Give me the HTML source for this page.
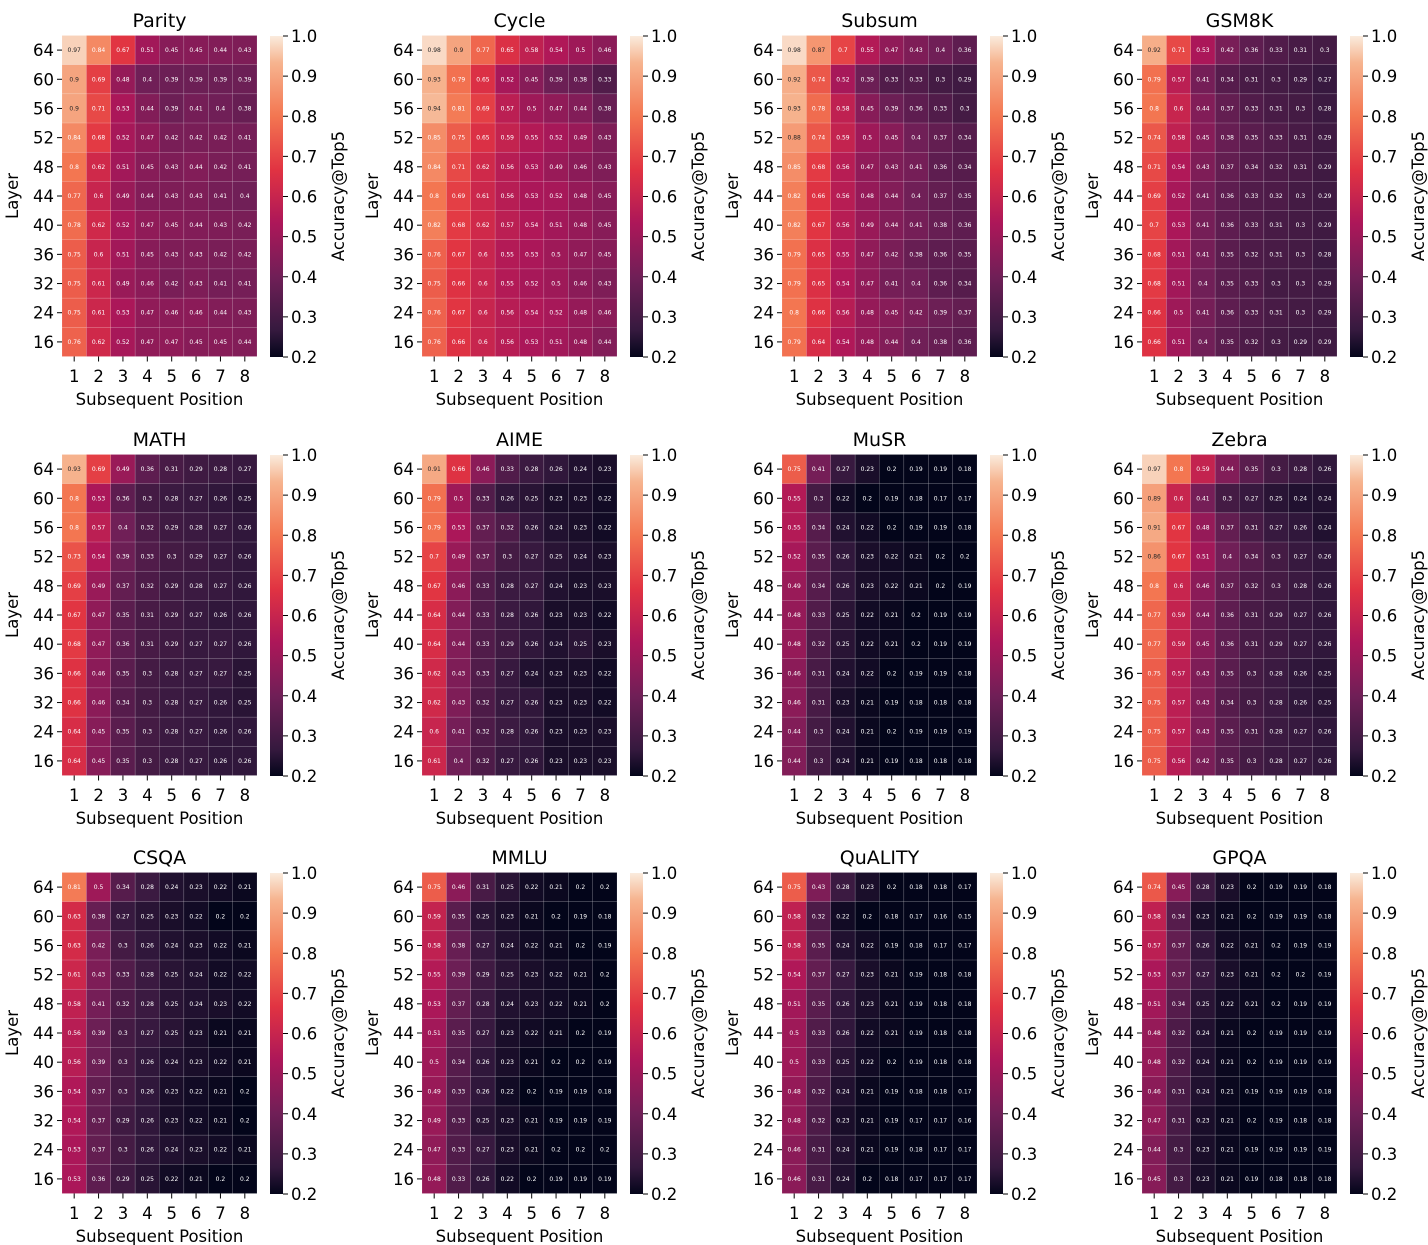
<!DOCTYPE html>
<html><head><meta charset="utf-8">
<style>
html,body{margin:0;padding:0;background:#fff;}
svg{display:block;font-family:"DejaVu Sans","Liberation Sans",sans-serif;}
</style></head>
<body>
<svg id="s" width="1428" height="1245" viewBox="0 0 1428 1245" xmlns="http://www.w3.org/2000/svg">
<defs>
<linearGradient id="cb" x1="0" y1="1" x2="0" y2="0">
<stop offset="0" stop-color="#03051a"/>
<stop offset="0.083" stop-color="#35193e"/>
<stop offset="0.25" stop-color="#701f57"/>
<stop offset="0.417" stop-color="#ad1759"/>
<stop offset="0.583" stop-color="#e13342"/>
<stop offset="0.75" stop-color="#f37651"/>
<stop offset="0.917" stop-color="#f6b48f"/>
<stop offset="1" stop-color="#faebdd"/>
</linearGradient>
</defs>
</svg>
<script>
const D={
Parity:`.97 .84 .67 .51 .45 .45 .44 .43
.9 .69 .48 .4 .39 .39 .39 .39
.9 .71 .53 .44 .39 .41 .4 .38
.84 .68 .52 .47 .42 .42 .42 .41
.8 .62 .51 .45 .43 .44 .42 .41
.77 .6 .49 .44 .43 .43 .41 .4
.78 .62 .52 .47 .45 .44 .43 .42
.75 .6 .51 .45 .43 .43 .42 .42
.75 .61 .49 .46 .42 .43 .41 .41
.75 .61 .53 .47 .46 .46 .44 .43
.76 .62 .52 .47 .47 .45 .45 .44`,
Cycle:`.98 .9 .77 .65 .58 .54 .5 .46
.93 .79 .65 .52 .45 .39 .38 .33
.94 .81 .69 .57 .5 .47 .44 .38
.85 .75 .65 .59 .55 .52 .49 .43
.84 .71 .62 .56 .53 .49 .46 .43
.8 .69 .61 .56 .53 .52 .48 .45
.82 .68 .62 .57 .54 .51 .48 .45
.76 .67 .6 .55 .53 .5 .47 .45
.75 .66 .6 .55 .52 .5 .46 .43
.76 .67 .6 .56 .54 .52 .48 .46
.76 .66 .6 .56 .53 .51 .48 .44`,
Subsum:`.98 .87 .7 .55 .47 .43 .4 .36
.92 .74 .52 .39 .33 .33 .3 .29
.93 .78 .58 .45 .39 .36 .33 .3
.88 .74 .59 .5 .45 .4 .37 .34
.85 .68 .56 .47 .43 .41 .36 .34
.82 .66 .56 .48 .44 .4 .37 .35
.82 .67 .56 .49 .44 .41 .38 .36
.79 .65 .55 .47 .42 .38 .36 .35
.79 .65 .54 .47 .41 .4 .36 .34
.8 .66 .56 .48 .45 .42 .39 .37
.79 .64 .54 .48 .44 .4 .38 .36`,
GSM8K:`.92 .71 .53 .42 .36 .33 .31 .3
.79 .57 .41 .34 .31 .3 .29 .27
.8 .6 .44 .37 .33 .31 .3 .28
.74 .58 .45 .38 .35 .33 .31 .29
.71 .54 .43 .37 .34 .32 .31 .29
.69 .52 .41 .36 .33 .32 .3 .29
.7 .53 .41 .36 .33 .31 .3 .29
.68 .51 .41 .35 .32 .31 .3 .28
.68 .51 .4 .35 .33 .3 .3 .29
.66 .5 .41 .36 .33 .31 .3 .29
.66 .51 .4 .35 .32 .3 .29 .29`,
MATH:`.93 .69 .49 .36 .31 .29 .28 .27
.8 .53 .36 .3 .28 .27 .26 .25
.8 .57 .4 .32 .29 .28 .27 .26
.73 .54 .39 .33 .3 .29 .27 .26
.69 .49 .37 .32 .29 .28 .27 .26
.67 .47 .35 .31 .29 .27 .26 .26
.68 .47 .36 .31 .29 .27 .27 .26
.66 .46 .35 .3 .28 .27 .27 .25
.66 .46 .34 .3 .28 .27 .26 .25
.64 .45 .35 .3 .28 .27 .26 .26
.64 .45 .35 .3 .28 .27 .26 .26`,
AIME:`.91 .66 .46 .33 .28 .26 .24 .23
.79 .5 .33 .26 .25 .23 .23 .22
.79 .53 .37 .32 .26 .24 .23 .22
.7 .49 .37 .3 .27 .25 .24 .23
.67 .46 .33 .28 .27 .24 .23 .23
.64 .44 .33 .28 .26 .23 .23 .22
.64 .44 .33 .29 .26 .24 .25 .23
.62 .43 .33 .27 .24 .23 .23 .22
.62 .43 .32 .27 .26 .23 .23 .22
.6 .41 .32 .28 .26 .23 .23 .23
.61 .4 .32 .27 .26 .23 .23 .23`,
MuSR:`.75 .41 .27 .23 .2 .19 .19 .18
.55 .3 .22 .2 .19 .18 .17 .17
.55 .34 .24 .22 .2 .19 .19 .18
.52 .35 .26 .23 .22 .21 .2 .2
.49 .34 .26 .23 .22 .21 .2 .19
.48 .33 .25 .22 .21 .2 .19 .19
.48 .32 .25 .22 .21 .2 .19 .19
.46 .31 .24 .22 .2 .19 .19 .18
.46 .31 .23 .21 .19 .18 .18 .18
.44 .3 .24 .21 .2 .19 .19 .19
.44 .3 .24 .21 .19 .18 .18 .18`,
Zebra:`.97 .8 .59 .44 .35 .3 .28 .26
.89 .6 .41 .3 .27 .25 .24 .24
.91 .67 .48 .37 .31 .27 .26 .24
.86 .67 .51 .4 .34 .3 .27 .26
.8 .6 .46 .37 .32 .3 .28 .26
.77 .59 .44 .36 .31 .29 .27 .26
.77 .59 .45 .36 .31 .29 .27 .26
.75 .57 .43 .35 .3 .28 .26 .25
.75 .57 .43 .34 .3 .28 .26 .25
.75 .57 .43 .35 .31 .28 .27 .26
.75 .56 .42 .35 .3 .28 .27 .26`,
CSQA:`.81 .5 .34 .28 .24 .23 .22 .21
.63 .38 .27 .25 .23 .22 .2 .2
.63 .42 .3 .26 .24 .23 .22 .21
.61 .43 .33 .28 .25 .24 .22 .22
.58 .41 .32 .28 .25 .24 .23 .22
.56 .39 .3 .27 .25 .23 .21 .21
.56 .39 .3 .26 .24 .23 .22 .21
.54 .37 .3 .26 .23 .22 .21 .2
.54 .37 .29 .26 .23 .22 .21 .2
.53 .37 .3 .26 .24 .23 .22 .21
.53 .36 .29 .25 .22 .21 .2 .2`,
MMLU:`.75 .46 .31 .25 .22 .21 .2 .2
.59 .35 .25 .23 .21 .2 .19 .18
.58 .38 .27 .24 .22 .21 .2 .19
.55 .39 .29 .25 .23 .22 .21 .2
.53 .37 .28 .24 .23 .22 .21 .2
.51 .35 .27 .23 .22 .21 .2 .19
.5 .34 .26 .23 .21 .2 .2 .19
.49 .33 .26 .22 .2 .19 .19 .18
.49 .33 .25 .23 .21 .19 .19 .19
.47 .33 .27 .23 .21 .2 .2 .2
.48 .33 .26 .22 .2 .19 .19 .19`,
QuALITY:`.75 .43 .28 .23 .2 .18 .18 .17
.58 .32 .22 .2 .18 .17 .16 .15
.58 .35 .24 .22 .19 .18 .17 .17
.54 .37 .27 .23 .21 .19 .18 .18
.51 .35 .26 .23 .21 .19 .18 .18
.5 .33 .26 .22 .21 .19 .18 .18
.5 .33 .25 .22 .2 .19 .18 .18
.48 .32 .24 .21 .19 .18 .18 .17
.48 .32 .23 .21 .19 .17 .17 .16
.46 .31 .24 .21 .19 .18 .17 .17
.46 .31 .24 .2 .18 .17 .17 .17`,
GPQA:`.74 .45 .28 .23 .2 .19 .19 .18
.58 .34 .23 .21 .2 .19 .19 .18
.57 .37 .26 .22 .21 .2 .19 .19
.53 .37 .27 .23 .21 .2 .2 .19
.51 .34 .25 .22 .21 .2 .19 .19
.48 .32 .24 .21 .2 .19 .19 .19
.48 .32 .24 .21 .2 .19 .19 .19
.46 .31 .24 .21 .19 .19 .19 .18
.47 .31 .23 .21 .2 .19 .18 .18
.44 .3 .23 .21 .19 .19 .19 .19
.45 .3 .23 .21 .19 .18 .18 .18`};
const stops=[[0,[3,5,26]],[.083,[0x35,0x19,0x3e]],[.25,[0x70,0x1f,0x57]],[.417,[0xad,0x17,0x59]],[.583,[0xe1,0x33,0x42]],[.75,[0xf3,0x76,0x51]],[.917,[0xf6,0xb4,0x8f]],[1,[0xfa,0xeb,0xdd]]];
function cmap(v){let t=(v-0.2)/0.8;t=Math.max(0,Math.min(1,t));
for(let i=1;i<stops.length;i++){if(t<=stops[i][0]){const a=stops[i-1],b=stops[i];const f=(t-a[0])/(b[0]-a[0]);return a[1].map((c,k)=>Math.round(c+(b[1][k]-c)*f));}}return stops[stops.length-1][1];}
function lum(c){const l=c.map(x=>{x/=255;return x<=0.03928?x/12.92:Math.pow((x+0.055)/1.055,2.4)});return 0.2126*l[0]+0.7152*l[1]+0.0722*l[2];}
const names=Object.keys(D),rows=[64,60,56,52,48,44,40,36,32,24,16];
const yoffs=[0,419,837];
const FS=16.5;
let h='';
names.forEach((n,i)=>{const ox=360*(i%4),oy=yoffs[Math.floor(i/4)];
const x0=ox+62,y0=oy+35.5,cw=195/8,ch=321/11;
const vals=D[n].trim().split('\n').map(r=>r.trim().split(/\s+/));
vals.forEach((r,ri)=>r.forEach((s,ci)=>{const v=parseFloat(s);const c=cmap(v);
const x=x0+ci*cw,y=y0+ri*ch;
h+=`<rect x="${x}" y="${y}" width="${cw}" height="${ch}" fill="rgb(${c})" stroke="rgba(255,255,255,0.25)" stroke-width="0.5"/>`;
const txt=s.replace(/^\./,'0.');
h+=`<text x="${x+cw/2}" y="${y+ch/2+2}" font-size="6" text-anchor="middle" fill="${lum(c)>0.408?'#262626':'#fff'}">${txt}</text>`;}));
h+=`<text x="${ox+159.5}" y="${oy+27}" font-size="19" text-anchor="middle" fill="#000">${n}</text>`;
rows.forEach((r,ri)=>{const y=y0+ri*ch+ch/2;h+=`<line x1="${x0-5}" x2="${x0}" y1="${y}" y2="${y}" stroke="#000" stroke-width="1"/><text x="${x0-8}" y="${y+6}" font-size="${FS}" text-anchor="end">${r}</text>`;});
for(let c=0;c<8;c++){const x=x0+c*cw+cw/2;h+=`<line x1="${x}" x2="${x}" y1="${y0+321}" y2="${y0+326}" stroke="#000"/><text x="${x}" y="${oy+382}" font-size="${FS}" text-anchor="middle">${c+1}</text>`;}
h+=`<text x="${ox+159.5}" y="${oy+405}" font-size="${FS}" text-anchor="middle">Subsequent Position</text>`;
h+=`<text transform="translate(${ox+18},${oy+196}) rotate(-90)" font-size="${FS}" text-anchor="middle">Layer</text>`;
const cx=ox+270,cy0=oy+36,cy1=oy+357;
h+=`<rect x="${cx}" y="${cy0}" width="13" height="${cy1-cy0}" fill="url(#cb)"/>`;
for(let k=0;k<=8;k++){const v=(0.2+k*0.1).toFixed(1);const y=cy1-k*(cy1-cy0)/8;
h+=`<line x1="${cx+13}" x2="${cx+18}" y1="${y}" y2="${y}" stroke="#000"/><text x="${cx+21}" y="${y+6}" font-size="${FS}">${v}</text>`;}
h+=`<text transform="translate(${ox+344},${oy+196}) rotate(-90)" font-size="${FS}" text-anchor="middle">Accuracy@Top5</text>`;
});
document.getElementById('s').insertAdjacentHTML('beforeend',h);
</script>
</body></html>
